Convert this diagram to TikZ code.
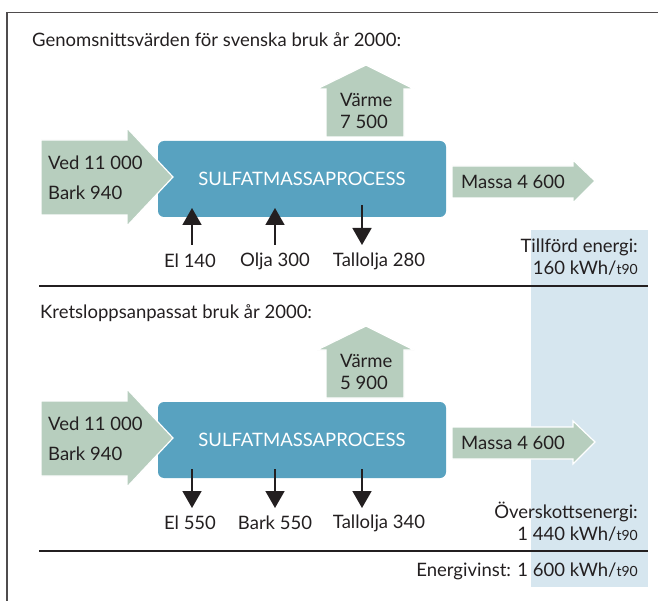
\documentclass[tikz,border=0pt]{standalone}
\usepackage{fontspec}
\setmainfont{Lato}
\usetikzlibrary{arrows.meta,calc}
\definecolor{flowgreen}{RGB}{183,206,190}
\definecolor{procblue}{RGB}{88,162,192}
\definecolor{bandblue}{RGB}{214,230,239}
\definecolor{inkgray}{RGB}{35,31,32}
\newcommand{\tns}{{\fontsize{14}{14}\selectfont t90}}
\tikzset{
    flow/.style = {fill=flowgreen, draw=white, line width=1.2pt},
    block/.style = {fill=procblue, rounded corners=6pt, text=white,
        minimum width=288pt, minimum height=76pt, inner sep=0pt},
    lbl/.style = {text=inkgray, inner sep=0pt},
    stub/.style = {draw=inkgray, line width=1.7pt, -{Triangle[width=19pt,length=17pt]}},
    rule/.style = {draw=inkgray, line width=2pt},
    frame/.style = {draw=inkgray!80, line width=1.1pt}
}

\begin{document}
\begin{tikzpicture}[x=1pt, y=-1pt, font=\fontsize{18.5}{22}\selectfont]
        \useasboundingbox (0,0) rectangle (658,601);
        \fill[bandblue] (531,230) rectangle (648,587);
        \draw[frame] (658,12.5) -- (7,12.5) -- (7,601);
        % upper panel
        \node[lbl, anchor=west] (title1) at (32,40) {Genomsnittsvärden för svenska bruk år 2000:};
        \draw[flow] (326,137) -- (326,89) -- (317,89) -- (366,65) -- (414,89) -- (404,89) -- (404,137) -- cycle;
        \node[block] (proc1) at (302,179) {SULFATMASSAPROCESS};
        \draw[flow] (41,140) -- (127,140) -- (127,128) -- (173,177) -- (127,226) -- (127,215) -- (41,215) -- cycle;
        \draw[flow] (452,166) -- (573,166) -- (573,160) -- (595,181) -- (573,203) -- (573,198) -- (452,198) -- cycle;
        \node[lbl, anchor=west] (ved1) at (48,163) {Ved 11 000};
        \node[lbl, anchor=west] (bark1) at (48,193) {Bark 940};
        \node[lbl, anchor=west] (varme1) at (340,100) {Värme};
        \node[lbl, anchor=west] (heat1) at (340,122) {7 500};
        \node[lbl, anchor=west] (massa1) at (461,182) {Massa 4 600};
        \node[lbl] (el1) at (190,261) {El 140};
        \node[lbl] (olja1) at (275,261) {Olja 300};
        \node[lbl] (tall1) at (379,261) {Tallolja 280};
        \coordinate (el1a) at (192,245);
        \coordinate (olja1a) at (275,245);
        \coordinate (tall1a) at (362,245);
        \draw[stub] (el1a) -- (el1a |- 0,208);
        \draw[stub] (olja1a) -- (olja1a |- 0,208);
        \draw[stub] (tall1a |- 0,205) -- (tall1a);
        \node[lbl, anchor=east, align=right] (tillf) at (638,257) {Tillförd energi:\\160 kWh/\tns};
        \coordinate (rule1a) at (39,286);
        \coordinate (rule1b) at (648,286);
        \draw[rule] (rule1a) -- (rule1b);
        % lower panel
        \node[lbl, anchor=west] (title2) at (40,313) {Kretsloppsanpassat bruk år 2000:};
        \draw[flow] (326,398) -- (326,350) -- (317,350) -- (366,326) -- (414,350) -- (404,350) -- (404,398) -- cycle;
        \node[block] (proc2) at (302,440) {SULFATMASSAPROCESS};
        \draw[flow] (41,401) -- (127,401) -- (127,389) -- (173,438) -- (127,487) -- (127,476) -- (41,476) -- cycle;
        \draw[flow] (452,427) -- (573,427) -- (573,421) -- (595,442) -- (573,464) -- (573,459) -- (452,459) -- cycle;
        \node[lbl, anchor=west] (ved2) at (48,424) {Ved 11 000};
        \node[lbl, anchor=west] (bark2) at (48,454) {Bark 940};
        \node[lbl, anchor=west] (varme2) at (340,361) {Värme};
        \node[lbl, anchor=west] (heat2) at (340,383) {5 900};
        \node[lbl, anchor=west] (massa2) at (461,443) {Massa 4 600};
        \node[lbl] (el2) at (190,523) {El 550};
        \node[lbl] (bark2b) at (275,523) {Bark 550};
        \node[lbl] (tall2) at (379,523) {Tallolja 340};
        \coordinate (el2a) at (192,469);
        \coordinate (bark2a) at (275,469);
        \coordinate (tall2a) at (362,469);
        \draw[stub] (el2a) -- (el2a |- 0,508);
        \draw[stub] (bark2a) -- (bark2a |- 0,508);
        \draw[stub] (tall2a) -- (tall2a |- 0,508);
        \node[lbl, anchor=east, align=right] (oversk) at (638,522) {Överskottsenergi:\\1 440 kWh/\tns};
        \coordinate (rule2a) at (39,551);
        \coordinate (rule2b) at (648,551);
        \draw[rule] (rule2a) -- (rule2b);
        \node[lbl, anchor=east] (vinst) at (638,571) {Energivinst: 1 600 kWh/\tns};
\end{tikzpicture}
\end{document}
